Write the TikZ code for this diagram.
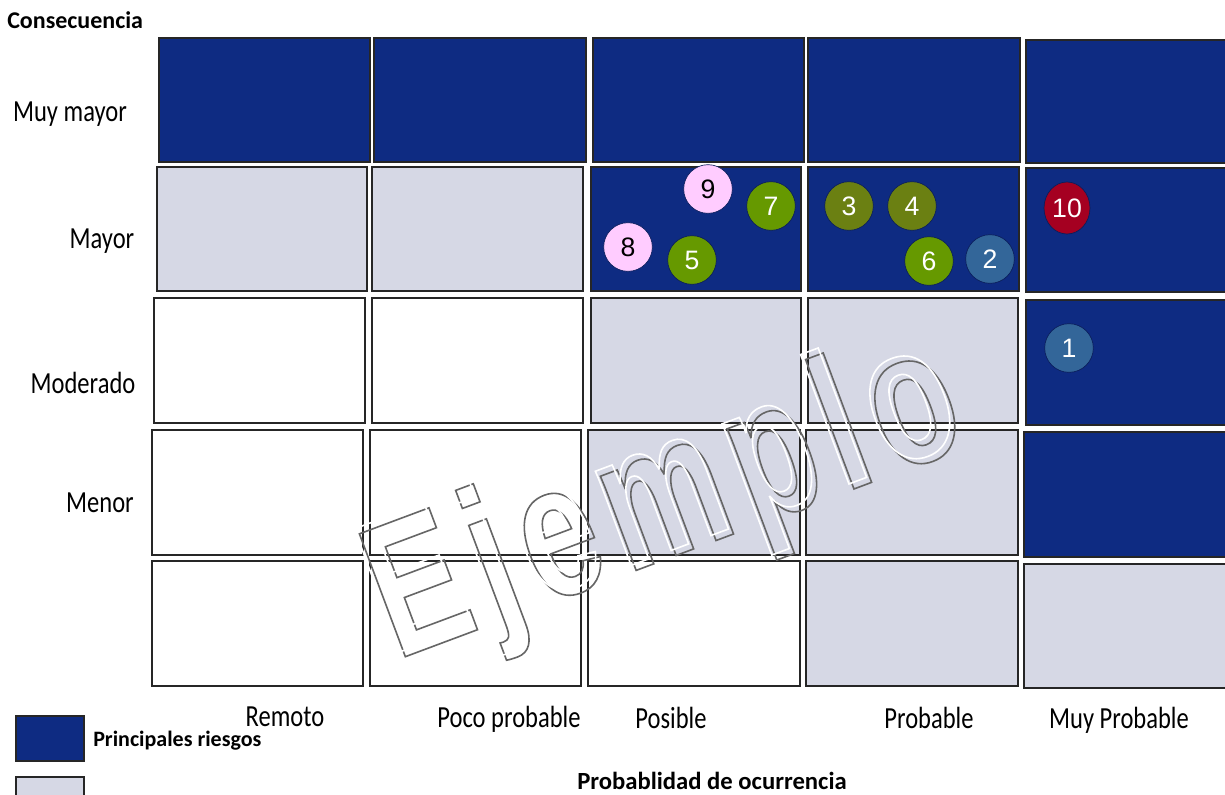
\documentclass[tikz,border=0pt]{standalone}
\usepackage{fontspec}
\usetikzlibrary{shapes.geometric}
\setmainfont{Carlito}
\newfontfamily\condfont{Carlito}[FakeStretch=0.8]
\newfontfamily\arialfont{Liberation Sans}
\newfontfamily\wmfont{Liberation Sans Bold}[FakeStretch=0.72]
\newcommand\outlinetext[1]{\special{pdf:literal direct 1 Tr 1.2 w}#1\special{pdf:literal direct 0 Tr}}
\newcommand\wmword{E\kern10pt j\kern10pt e\kern10pt m\kern10pt p\kern10pt l\kern10pt o}
\definecolor{riskblue}{RGB}{14,43,130}
\definecolor{riskgray}{RGB}{214,216,229}
\definecolor{riskgreen}{RGB}{102,153,0}
\definecolor{riskolive}{RGB}{107,128,18}
\definecolor{riskpink}{RGB}{255,204,255}
\definecolor{risksteel}{RGB}{51,102,153}
\definecolor{riskred}{RGB}{165,0,33}
\tikzset{
  cellbox/.style={draw=black!85, line width=0.8pt},
  hi/.style={cellbox, fill=riskblue},
  mid/.style={cellbox, fill=riskgray},
  lo/.style={cellbox, fill=white},
  bubble/.style={circle, draw=riskblue!70!black, line width=0.5pt, minimum size=36.5pt, inner sep=0pt, font=\arialfont\fontsize{20}{20}\selectfont, text=white},
  axislabel/.style={font=\condfont\fontsize{23}{24}\selectfont, inner sep=0pt, anchor=base},
  boldlabel/.style={font=\bfseries, inner sep=0pt},
  watermark/.style={rotate=20.5, anchor=base west, inner sep=0pt, font=\wmfont\fontsize{143}{143}\selectfont}
}
\begin{document}
\begin{tikzpicture}[x=0.75pt, y=-0.75pt]
\useasboundingbox (0,0) rectangle (1225,794);
% row 1
\path[hi] (159,38) rectangle (370,162);
\path[hi] (374,38) rectangle (586,162);
\path[hi] (593,38) rectangle (804,162);
\path[hi] (808,38) rectangle (1020,162);
\path[hi] (1026,40) rectangle (1230,163);
% row 2
\path[mid] (157,167) rectangle (367,291);
\path[mid] (372,167) rectangle (583,291);
\path[hi] (591,167) rectangle (801,291);
\path[hi] (808,167) rectangle (1019,291);
\path[hi] (1026,168) rectangle (1230,292);
% row 3
\path[lo] (154,298) rectangle (365,423);
\path[lo] (372,298) rectangle (583,423);
\path[mid] (591,298) rectangle (801,423);
\path[mid] (808,298) rectangle (1018,423);
\path[hi] (1026,300) rectangle (1230,425);
% row 4
\path[lo] (152,430) rectangle (363,555);
\path[lo] (370,430) rectangle (581,555);
\path[mid] (588,430) rectangle (800,555);
\path[mid] (806,430) rectangle (1018,555);
\path[hi] (1024,432) rectangle (1230,557);
% row 5
\path[lo] (152,561) rectangle (363,686);
\path[lo] (370,561) rectangle (581,686);
\path[lo] (588,561) rectangle (800,686);
\path[mid] (806,561) rectangle (1018,686);
\path[mid] (1024,564) rectangle (1230,688);
% bubbles
\node[bubble, fill=riskpink, text=black] (b9) at (708,189) {9};
\node[bubble, fill=riskgreen] (b7) at (771,206) {7};
\node[bubble, fill=riskpink, text=black] (b8) at (628,247) {8};
\node[bubble, fill=riskgreen] (b5) at (692,260) {5};
\node[bubble, fill=riskolive] (b3) at (849,206) {3};
\node[bubble, fill=riskolive] (b4) at (912,206) {4};
\node[bubble, fill=riskgreen] (b6) at (929,261) {6};
\node[bubble, fill=risksteel] (b2) at (990,259) {2};
\node[bubble, ellipse, minimum width=34.5pt, minimum height=39pt, fill=riskred] (b10) at (1067,208) {10};
\node[bubble, fill=risksteel] (b1) at (1069,348) {1};
% watermark
\node[watermark, text=black!60] (wm2) at (396.5,660) {\outlinetext{\wmword}};
\node[watermark, text=white] (wm) at (391.5,655) {\outlinetext{\wmword}};
% axis labels
\node[boldlabel, anchor=base west, font=\bfseries\fontsize{18}{20}\selectfont] (cons) at (7,28) {Consecuencia};
\node[axislabel] (l1) at (70,121) {Muy mayor};
\node[axislabel] (l2) at (102,248) {Mayor};
\node[axislabel] (l3) at (83,393) {Moderado};
\node[axislabel] (l4) at (100,512) {Menor};
\node[axislabel] (c1) at (285,726) {Remoto};
\node[axislabel] (c2) at (509,727) {Poco probable};
\node[axislabel] (c3) at (671,728) {Posible};
\node[axislabel] (c4) at (929,728) {Probable};
\node[axislabel] (c5) at (1119,728) {Muy Probable};
\node[boldlabel, anchor=center, font=\bfseries\fontsize{18.5}{20}\selectfont] (prob) at (712,781) {Probablidad de ocurrencia};
% legend
\path[cellbox, fill=riskblue] (16,716) rectangle (84,761);
\path[cellbox, fill=riskgray] (16,777) rectangle (84,800);
\node[boldlabel, anchor=west, font=\bfseries\fontsize{16.5}{18}\selectfont] (leg1) at (93,741) {Principales riesgos};
\end{tikzpicture}
\end{document}
